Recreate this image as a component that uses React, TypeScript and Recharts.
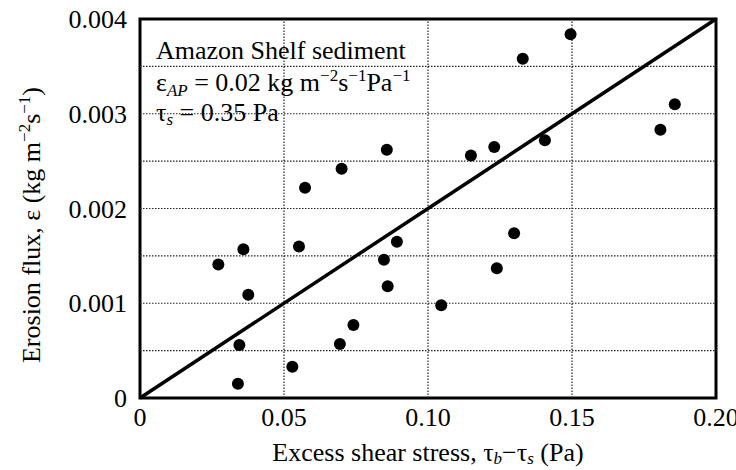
import { ScatterChart, Scatter, XAxis, YAxis, ReferenceLine, ReferenceArea } from 'recharts';

const stressX = [
  0.0272, 0.0359, 0.0376, 0.0345, 0.034, 0.0529, 0.0552, 0.0573, 0.0700, 0.0694, 0.0741, 0.0857,
  0.0847, 0.0860, 0.0892, 0.1046, 0.1149, 0.1230, 0.1239, 0.1299, 0.1329, 0.1406, 0.1495, 0.1807, 0.1857,
];
const fluxY = [
  0.00141, 0.00157, 0.00109, 0.00056, 0.00015, 0.00033, 0.00160, 0.00222, 0.00242, 0.00057, 0.00077, 0.00262,
  0.00146, 0.00118, 0.00165, 0.00098, 0.00256, 0.00265, 0.00137, 0.00174, 0.00358, 0.00272, 0.00384, 0.00283, 0.00310,
];
const fitX = [0, 0.2];
const fitY = [0, 0.004];

const xTicks = [0, 0.05, 0.1, 0.15, 0.2];
const xTickLabels = ['0', '0.05', '0.10', '0.15', '0.20'];
const yTicks = [0, 0.001, 0.002, 0.003, 0.004];
const yTickLabels = ['0', '0.001', '0.002', '0.003', '0.004'];
const gridX = [0.05, 0.1, 0.15];
const gridY = [0.0005, 0.001, 0.0015, 0.002, 0.0025, 0.003, 0.0035];

const points = stressX.map((x, i) => ({ x, y: fluxY[i] }));
const fitLine = fitX.map((x, i) => ({ x, y: fitY[i] }));

const font = '"Liberation Serif", "Times New Roman", serif';
const tickStyle = { fontFamily: font, fontSize: 26, fill: '#000' };

const Dot = (p: any) => <circle cx={p.cx} cy={p.cy} r={6} fill="#000" />;

export default function App() {
  return (
    <div style={{ position: 'absolute', left: 0, top: 0, width: 736, height: 470, background: '#fff' }}>
      <ScatterChart width={736} height={470} margin={{ top: 19, right: 20, left: 0, bottom: 0 }}>
        {gridY.map((v) => (
          <ReferenceLine key={`gy${v}`} y={v} stroke="#222" strokeWidth={1.2} strokeDasharray="1.5 1.5" />
        ))}
        {gridX.map((v) => (
          <ReferenceLine key={`gx${v}`} x={v} stroke="#222" strokeWidth={1.2} strokeDasharray="1.5 1.5" />
        ))}
        <XAxis
          type="number"
          dataKey="x"
          domain={[0, 0.2]}
          ticks={xTicks}
          tickFormatter={(v, i) => xTickLabels[i]}
          tickLine={false}
          axisLine={false}
          tickMargin={4}
          height={72}
          tick={tickStyle}
          interval={0}
        />
        <YAxis
          type="number"
          dataKey="y"
          domain={[0, 0.004]}
          ticks={yTicks}
          tickFormatter={(v, i) => yTickLabels[i]}
          tickLine={false}
          axisLine={false}
          tickMargin={7}
          width={140}
          tick={tickStyle}
          interval={0}
        />
        <ReferenceArea x1={0} x2={0.2} y1={0} y2={0.004} fill="none" stroke="#000" strokeWidth={3} />
        <Scatter
          data={fitLine}
          line={{ stroke: '#000', strokeWidth: 3.5 }}
          shape={() => null}
          isAnimationActive={false}
        />
        <Scatter data={points} shape={Dot} isAnimationActive={false} />
      </ScatterChart>
      <svg
        width={736}
        height={470}
        style={{ position: 'absolute', left: 0, top: 0, pointerEvents: 'none' }}
        fontFamily={font}
        fontSize={26}
      >
        <text x={156} y={59}>Amazon Shelf sediment</text>
        <text x={156} y={91}>
          ε<tspan fontSize={17} fontStyle="italic" dy={5}>AP</tspan>
          <tspan dy={-5}> = 0.02 kg m</tspan>
          <tspan fontSize={17} dy={-10}>−2</tspan>
          <tspan dy={10}>s</tspan>
          <tspan fontSize={17} dy={-10}>−1</tspan>
          <tspan dy={10}>Pa</tspan>
          <tspan fontSize={17} dy={-10}>−1</tspan>
        </text>
        <text x={156} y={121}>
          τ<tspan fontSize={17} fontStyle="italic" dy={4}>s</tspan>
          <tspan dy={-4}> = 0.35 Pa</tspan>
        </text>
        <text x={428} y={461} textAnchor="middle">
          Excess shear stress, τ<tspan fontSize={17} fontStyle="italic" dy={3}>b</tspan>
          <tspan dy={-3}>−τ</tspan>
          <tspan fontSize={17} fontStyle="italic" dy={3}>s</tspan>
          <tspan dy={-3}> (Pa)</tspan>
        </text>
        <text transform="translate(40,225) rotate(-90)" textAnchor="middle">
          Erosion flux, ε (kg m<tspan fontSize={17} dy={-10}>−2</tspan>
          <tspan dy={10}>s</tspan>
          <tspan fontSize={17} dy={-10}>−1</tspan>
          <tspan dy={10}>)</tspan>
        </text>
      </svg>
    </div>
  );
}
